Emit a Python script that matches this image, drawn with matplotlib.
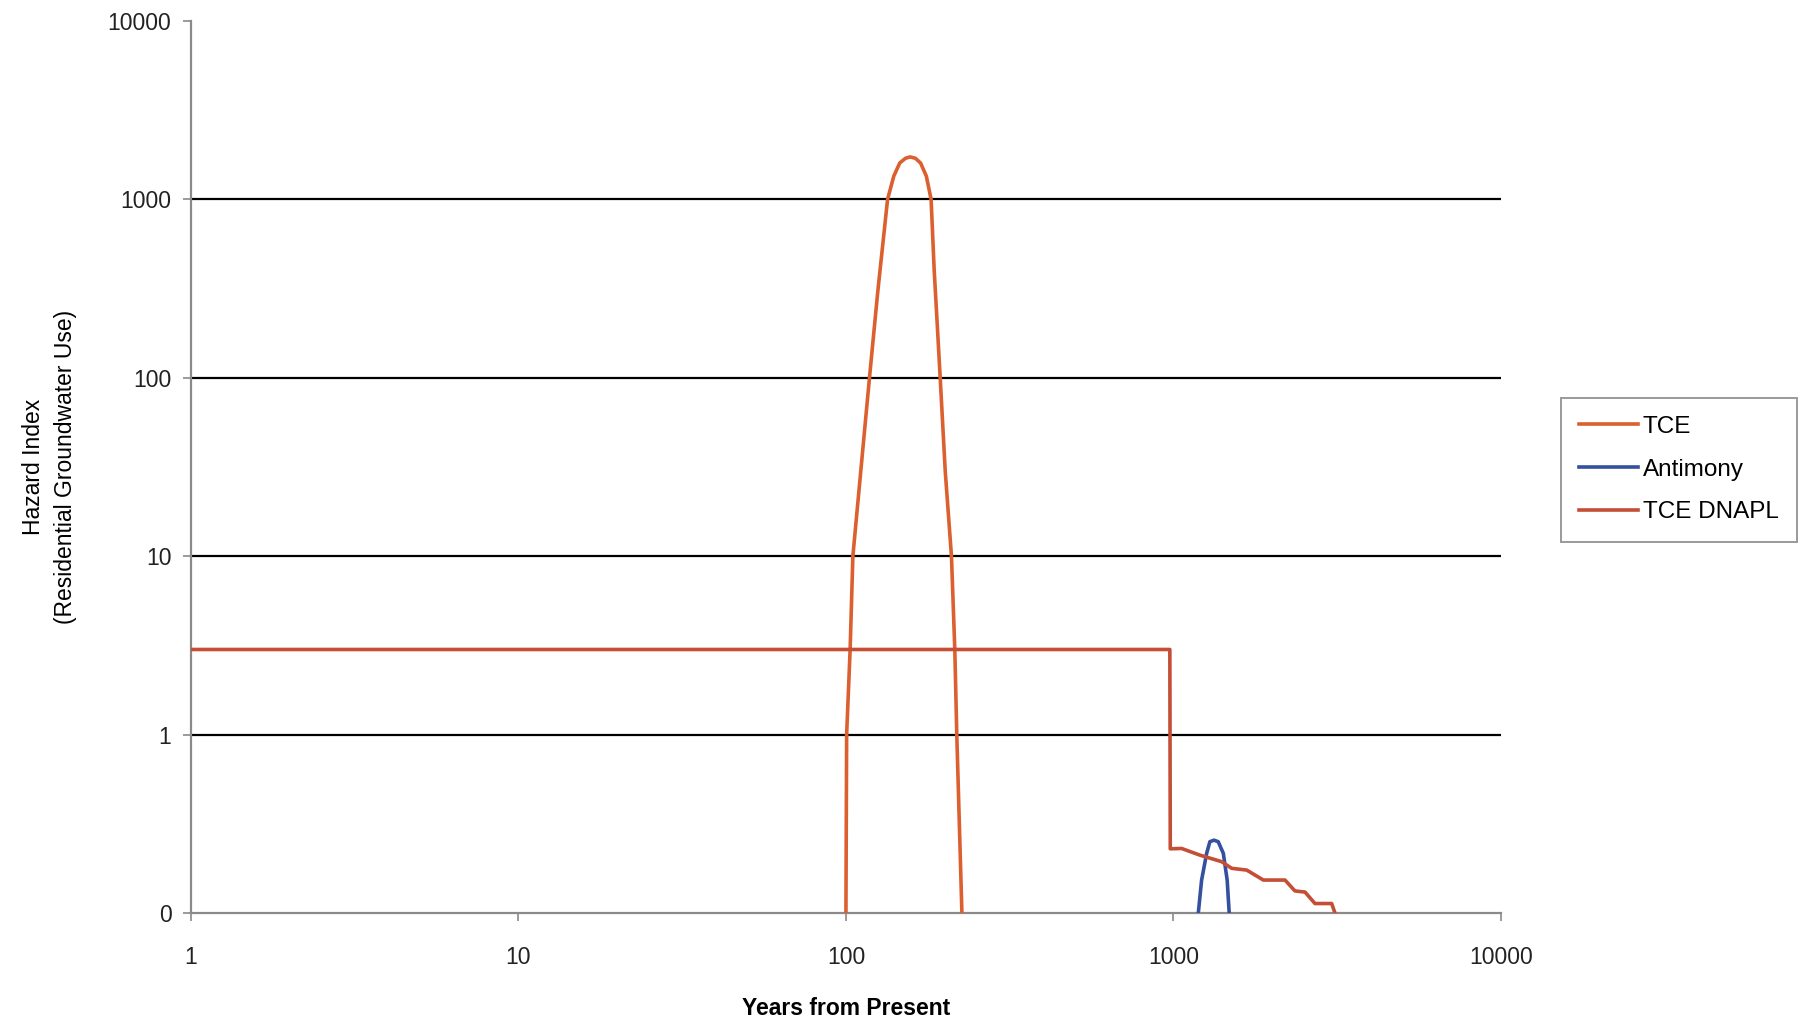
import matplotlib
matplotlib.use("Agg")
import matplotlib.pyplot as plt
from matplotlib.ticker import FixedLocator, NullLocator

plt.rcParams['font.family'] = ['Liberation Sans', 'DejaVu Sans']

# --- data ---
tce_years = [100, 100.5, 103, 105, 111, 118, 125, 134, 140, 146, 152, 157, 163, 169, 176, 182,
             186, 190, 194, 201, 210, 215, 218, 226]
tce_hi = [0.1, 1, 3, 10, 30, 100, 300, 1000, 1350, 1600, 1700, 1730, 1700, 1600, 1350, 1000,
          400, 200, 100, 30, 10, 3, 1, 0.1]

antimony_years = [1191, 1219, 1263, 1292, 1330, 1370, 1420, 1459, 1480]
antimony_hi = [0.1, 0.153, 0.216, 0.251, 0.256, 0.251, 0.216, 0.153, 0.1]

dnapl_years = [1, 975, 978, 1059, 1205, 1403, 1506, 1674, 1881, 2191, 2349, 2522, 2705, 3042, 3113]
dnapl_hi = [3.0, 3.0, 0.229, 0.23, 0.211, 0.194, 0.178, 0.174, 0.153, 0.153, 0.133, 0.131, 0.113, 0.113, 0.1]

y_ticks = [0.1, 1, 10, 100, 1000, 10000]
y_tick_labels = ['0', '1', '10', '100', '1000', '10000']
x_ticks = [1, 10, 100, 1000, 10000]
x_tick_labels = ['1', '10', '100', '1000', '10000']

fig = plt.figure(figsize=(18.01, 10.24), dpi=100)
ax = fig.add_axes([0.106, 0.1084, 0.7274, 0.8711])

ax.set_xscale('log')
ax.set_yscale('log')
ax.set_xlim(1, 10000)
ax.set_ylim(0.1, 10000)

# horizontal gridlines
for g in [1, 10, 100, 1000]:
    ax.axhline(g, color='black', lw=1.6, zorder=1)

ax.plot(tce_years, tce_hi, color='#dc5f30', lw=2.6, label='TCE', zorder=3)
ax.plot(antimony_years, antimony_hi, color='#34509e', lw=2.6, label='Antimony', zorder=3)
ax.plot(dnapl_years, dnapl_hi, color='#c44e36', lw=2.6, label='TCE DNAPL', zorder=3)

ax.yaxis.set_major_locator(FixedLocator(y_ticks))
ax.set_yticklabels(y_tick_labels)
ax.yaxis.set_minor_locator(NullLocator())
ax.xaxis.set_major_locator(FixedLocator(x_ticks))
ax.set_xticklabels(x_tick_labels)
ax.xaxis.set_minor_locator(NullLocator())

for s in ['top', 'right']:
    ax.spines[s].set_visible(False)
for s in ['left', 'bottom']:
    ax.spines[s].set_color('#8a8a8a')
    ax.spines[s].set_linewidth(1.6)

ax.tick_params(axis='both', which='major', length=6, width=1.2, color='#8a8a8a',
               labelsize=16.5, labelcolor='#222222')
ax.tick_params(axis='x', pad=18)
ax.tick_params(axis='y', pad=8)

ax.set_xlabel('Years from Present', fontsize=16.5, fontweight='bold', labelpad=20)
ax.set_ylabel('Hazard Index\n(Residential Groundwater Use)', fontsize=16.5, labelpad=22,
              linespacing=1.5)

leg = ax.legend(loc='center left', bbox_to_anchor=(1.046, 0.497), fontsize=17.5,
                frameon=True, fancybox=False, edgecolor='#808080',
                handlelength=2.4, handletextpad=0.2, labelspacing=0.85,
                borderpad=0.75, borderaxespad=0)
leg.get_frame().set_linewidth(1.4)

fig.savefig('out.png', dpi=100, facecolor='white')
